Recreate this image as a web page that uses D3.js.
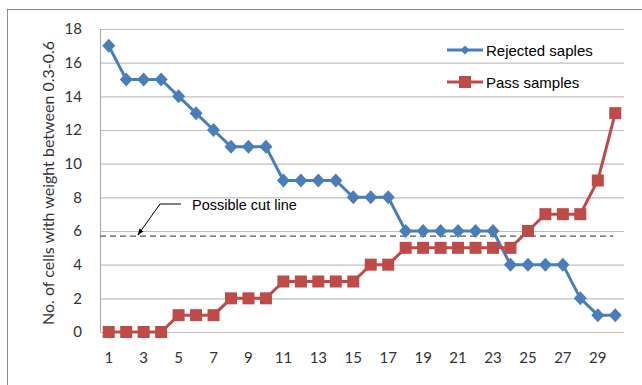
<!DOCTYPE html>
<html>
<head>
<meta charset="utf-8">
<script src="https://cdn.jsdelivr.net/npm/d3@7"></script>
<style>
  body { margin: 0; background: #fff; }
  svg { display: block; }
</style>
</head>
<body>
<svg id="chart"></svg>
<script>
const width = 642;
const height = 385;
const margin = { top: 29, right: 18, bottom: 53, left: 100 };

const samples = d3.range(1, 31);
const rejected = [17, 15, 15, 15, 14, 13, 12, 11, 11, 11, 9, 9, 9, 9, 8, 8, 8, 6, 6, 6, 6, 6, 6, 4, 4, 4, 4, 2, 1, 1];
const passed = [0, 0, 0, 0, 1, 1, 1, 2, 2, 2, 3, 3, 3, 3, 3, 4, 4, 5, 5, 5, 5, 5, 5, 5, 6, 7, 7, 7, 9, 13];
const yTicks = [0, 2, 4, 6, 8, 10, 12, 14, 16, 18];
const cutLine = 5.7;

const svg = d3.select("#chart")
  .attr("width", width)
  .attr("height", height);

// outer frame
svg.append("rect")
  .attr("x", 7.5).attr("y", 9.5)
  .attr("width", 700).attr("height", 400)
  .attr("fill", "none")
  .attr("stroke", "#8c8c8c");

const x = d3.scaleBand()
  .domain(samples)
  .range([margin.left, width - margin.right]);

const y = d3.scaleLinear()
  .domain([0, 18])
  .range([height - margin.bottom, margin.top]);

const cx = d => x(d) + x.bandwidth() / 2;

// gridlines
svg.append("g")
  .selectAll("line")
  .data(yTicks)
  .join("line")
  .attr("x1", margin.left)
  .attr("x2", width - margin.right)
  .attr("y1", d => y(d) + 0.5)
  .attr("y2", d => y(d) + 0.5)
  .attr("stroke", "#bfbfbf")
  .attr("stroke-width", 1.2);

// y axis line
svg.append("line")
  .attr("x1", margin.left + 0.5).attr("x2", margin.left + 0.5)
  .attr("y1", y(18)).attr("y2", y(0))
  .attr("stroke", "#a6a6a6");

const yAxis = svg.append("g")
  .attr("transform", `translate(${margin.left},0)`)
  .call(d3.axisLeft(y).tickValues(yTicks).tickSize(0).tickPadding(18));
yAxis.select(".domain").remove();
yAxis.selectAll("text")
  .attr("font-family", "Lato, 'Open Sans', sans-serif")
  .attr("font-size", 15)
  .attr("fill", "#333");

const xAxis = svg.append("g")
  .attr("transform", `translate(0,${y(0)})`)
  .call(d3.axisBottom(x).tickValues(samples.filter(d => d % 2 === 1)).tickSize(0).tickPadding(20));
xAxis.select(".domain").remove();
xAxis.selectAll("text")
  .attr("font-family", "Lato, 'Open Sans', sans-serif")
  .attr("font-size", 15)
  .attr("fill", "#333");

// y title
svg.append("text")
  .attr("transform", `translate(54,183) rotate(-90)`)
  .attr("text-anchor", "middle")
  .attr("font-family", "Lato, 'Open Sans', sans-serif")
  .attr("font-size", 16)
  .attr("fill", "#333")
  .text("No. of cells with weight between 0.3-0.6");

// cut line
svg.append("line")
  .attr("x1", margin.left)
  .attr("x2", cx(30) - 2)
  .attr("y1", y(cutLine))
  .attr("y2", y(cutLine))
  .attr("stroke", "#555")
  .attr("stroke-width", 1.3)
  .attr("stroke-dasharray", "6,4");

svg.append("defs").append("marker")
  .attr("id", "arrow")
  .attr("viewBox", "0 0 10 10")
  .attr("refX", 9).attr("refY", 5)
  .attr("markerWidth", 7).attr("markerHeight", 7)
  .attr("orient", "auto")
  .append("path")
  .attr("d", "M0,1.5 L10,5 L0,8.5 Z")
  .attr("fill", "#000");

svg.append("polyline")
  .attr("points", `181,204 160,204 ${x(3) + 3},${y(cutLine) - 1}`)
  .attr("fill", "none")
  .attr("stroke", "#000")
  .attr("stroke-width", 1)
  .attr("marker-end", "url(#arrow)");

svg.append("text")
  .attr("x", 192).attr("y", 210)
  .attr("font-family", "'Liberation Sans', Arial, sans-serif")
  .attr("font-size", 14.5)
  .attr("fill", "#000")
  .text("Possible cut line");

const line = d3.line()
  .x((d, i) => cx(samples[i]))
  .y(d => y(d));

const blue = "#4a7ebb";
const red = "#be4b48";

svg.append("path")
  .datum(rejected)
  .attr("d", line)
  .attr("fill", "none")
  .attr("stroke", blue)
  .attr("stroke-width", 3);

svg.append("path")
  .datum(passed)
  .attr("d", line)
  .attr("fill", "none")
  .attr("stroke", red)
  .attr("stroke-width", 3);

const diamond = "M0,-7 L6.5,0 L0,7 L-6.5,0 Z";

svg.append("g")
  .selectAll("path")
  .data(rejected)
  .join("path")
  .attr("transform", (d, i) => `translate(${cx(samples[i])},${y(d)})`)
  .attr("d", diamond)
  .attr("fill", blue);

svg.append("g")
  .selectAll("rect")
  .data(passed)
  .join("rect")
  .attr("x", (d, i) => cx(samples[i]) - 6)
  .attr("y", d => y(d) - 6)
  .attr("width", 12)
  .attr("height", 12)
  .attr("fill", red);

// legend
const legend = [
  { name: "Rejected saples", color: blue, shape: "diamond", yPos: 50 },
  { name: "Pass samples", color: red, shape: "square", yPos: 82 }
];
const lg = svg.append("g")
  .selectAll("g")
  .data(legend)
  .join("g")
  .attr("transform", d => `translate(447,${d.yPos})`);
lg.append("line")
  .attr("x1", 0).attr("x2", 36)
  .attr("stroke", d => d.color)
  .attr("stroke-width", 3);
lg.filter(d => d.shape === "diamond").append("path")
  .attr("transform", "translate(18,0)")
  .attr("d", "M0,-4.5 L4.5,0 L0,4.5 L-4.5,0 Z")
  .attr("fill", d => d.color);
lg.filter(d => d.shape === "square").append("rect")
  .attr("x", 12).attr("y", -6).attr("width", 12).attr("height", 12)
  .attr("fill", d => d.color);
lg.append("text")
  .attr("x", 39).attr("y", 5.5)
  .attr("font-family", "'Liberation Sans', Arial, sans-serif")
  .attr("font-size", 15)
  .attr("fill", "#000")
  .text(d => d.name);
</script>
</body>
</html>
